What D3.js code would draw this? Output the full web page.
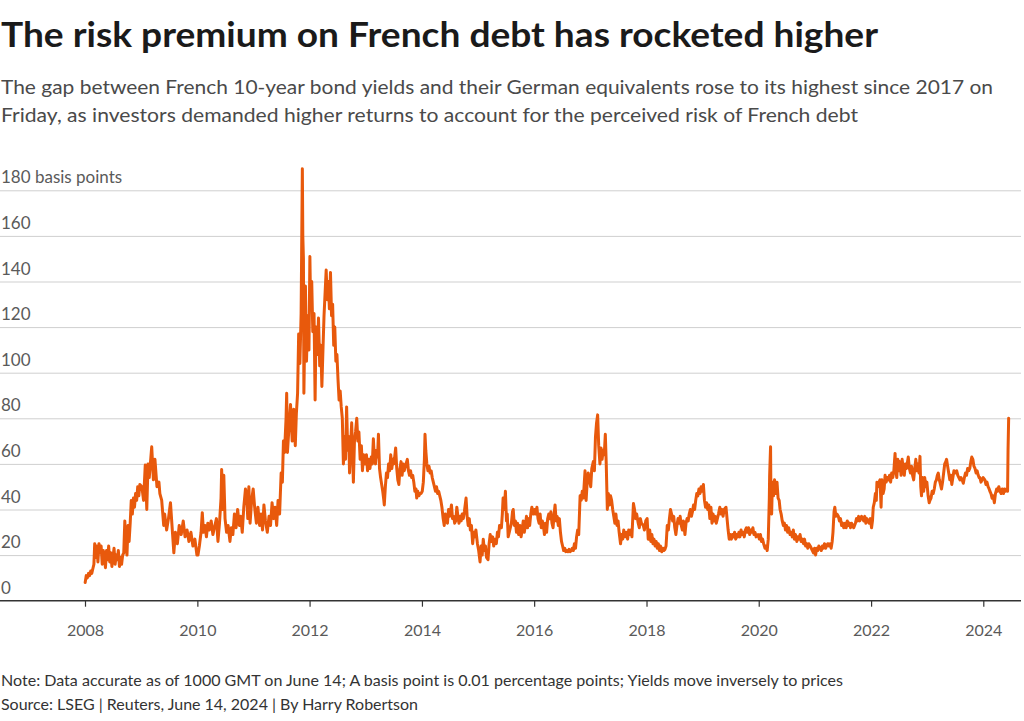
<!DOCTYPE html>
<html>
<head>
<meta charset="utf-8">
<script src="https://cdn.jsdelivr.net/npm/d3@7"></script>
<style>
  html, body { margin: 0; padding: 0; background: #fff; }
  svg { display: block; font-family: Lato, "Noto Sans", sans-serif; }
</style>
</head>
<body>
<svg id="chart" width="1024" height="721"></svg>
<script>
// ---------------- DATA ----------------
const titleText = "The risk premium on French debt has rocketed higher";
const subtitleLines = [
  "The gap between French 10-year bond yields and their German equivalents rose to its highest since 2017 on",
  "Friday, as investors demanded higher returns to account for the perceived risk of French debt"
];
const noteLines = [
  "Note: Data accurate as of 1000 GMT on June 14; A basis point is 0.01 percentage points; Yields move inversely to prices",
  "Source: LSEG | Reuters, June 14, 2024 | By Harry Robertson"
];
const yTicks = [0, 20, 40, 60, 80, 100, 120, 140, 160, 180];
const yUnit = "basis points";
const xTickYears = ["2008","2010","2012","2014","2016","2018","2020","2022","2024"];

const dates = [
 // 2008
 "2008-01-02","2008-01-09","2008-01-16","2008-01-24","2008-01-31","2008-02-07","2008-02-14","2008-02-21","2008-02-28","2008-03-04","2008-03-11","2008-03-18","2008-03-25","2008-04-01","2008-04-08","2008-04-15","2008-04-22","2008-04-29","2008-05-06","2008-05-13","2008-05-20","2008-05-27","2008-06-03","2008-06-10","2008-06-17","2008-06-24","2008-07-01","2008-07-08","2008-07-15","2008-07-22","2008-07-29","2008-08-05","2008-08-12","2008-08-19","2008-08-26","2008-09-02","2008-09-09","2008-09-16","2008-09-23","2008-09-30","2008-10-07","2008-10-14","2008-10-21","2008-10-28","2008-11-04","2008-11-11","2008-11-18","2008-11-25","2008-12-02","2008-12-09","2008-12-16","2008-12-23",
 // 2009
 "2009-01-05","2009-01-16","2009-01-27","2009-02-06","2009-02-14","2009-02-22","2009-03-10","2009-03-21","2009-03-31","2009-04-13","2009-04-26","2009-05-02","2009-05-14","2009-05-27","2009-06-02","2009-06-15","2009-06-27","2009-07-10","2009-07-23","2009-08-01","2009-08-11","2009-08-24","2009-09-05","2009-09-18","2009-10-01","2009-10-13","2009-10-26","2009-11-07","2009-11-20","2009-12-03","2009-12-16","2009-12-29",
 // 2010
 "2010-01-05","2010-01-14","2010-01-25","2010-02-02","2010-02-10","2010-02-20","2010-03-01","2010-03-10","2010-03-20","2010-04-01","2010-04-12","2010-04-25","2010-05-05","2010-05-15","2010-05-25","2010-06-04","2010-06-08","2010-06-15","2010-06-22","2010-06-30","2010-07-10","2010-07-20","2010-08-01","2010-08-10","2010-08-20","2010-08-30","2010-09-10","2010-09-20","2010-10-01","2010-10-10","2010-10-20","2010-10-30","2010-11-10","2010-11-17","2010-11-25","2010-12-02","2010-12-10","2010-12-20","2010-12-30",
 // 2011
 "2011-01-10","2011-01-20","2011-01-30","2011-02-10","2011-02-20","2011-03-01","2011-03-10","2011-03-20","2011-04-01","2011-04-12","2011-04-22","2011-05-02","2011-05-12","2011-05-22","2011-06-01","2011-06-10","2011-06-20","2011-06-30","2011-07-08","2011-07-15","2011-07-22","2011-08-01","2011-08-05","2011-08-10","2011-08-20","2011-08-30","2011-09-10","2011-09-20","2011-09-30","2011-10-07","2011-10-15","2011-10-22","2011-10-30","2011-11-07","2011-11-15","2011-11-18","2011-11-22","2011-11-25","2011-12-01","2011-12-05","2011-12-12","2011-12-20","2011-12-28",
 // 2012
 "2012-01-03","2012-01-08","2012-01-15","2012-01-22","2012-01-30","2012-02-06","2012-02-12","2012-02-20","2012-02-28","2012-03-07","2012-03-14","2012-03-21","2012-03-28","2012-04-04","2012-04-11","2012-04-18","2012-04-25","2012-05-02","2012-05-09","2012-05-16","2012-05-23","2012-05-30","2012-06-06","2012-06-13","2012-06-20","2012-06-27","2012-07-04","2012-07-11","2012-07-18","2012-07-25",
 "2012-08-01","2012-08-08","2012-08-15","2012-08-22","2012-08-29","2012-09-05","2012-09-12","2012-09-17","2012-09-24","2012-10-01","2012-10-07","2012-10-12","2012-10-19","2012-10-26","2012-11-03","2012-11-10","2012-11-17","2012-11-25","2012-12-03","2012-12-10","2012-12-17","2012-12-27",
 // 2013
 "2013-01-05","2013-01-12","2013-01-20","2013-01-28","2013-02-05","2013-02-12","2013-02-19","2013-02-26","2013-03-05","2013-03-12","2013-03-18","2013-03-24","2013-03-31","2013-04-07","2013-04-14","2013-04-21","2013-04-28","2013-05-01","2013-05-08","2013-05-15","2013-05-22","2013-05-29","2013-06-05","2013-06-12","2013-06-19","2013-06-26","2013-07-03","2013-07-14","2013-07-21","2013-07-28","2013-08-04","2013-08-11","2013-08-18","2013-08-25","2013-09-01","2013-09-08","2013-09-15","2013-09-28","2013-10-05","2013-10-12","2013-10-19","2013-10-26","2013-11-02","2013-11-09","2013-11-16","2013-11-23","2013-11-28","2013-12-05","2013-12-12","2013-12-19","2013-12-26",
 // 2014
 "2014-01-03","2014-01-10","2014-01-17","2014-01-21","2014-01-26","2014-02-02","2014-02-09","2014-02-16","2014-02-23","2014-03-02","2014-03-09","2014-03-16","2014-03-23","2014-03-30","2014-04-06","2014-04-13","2014-04-20","2014-04-27","2014-05-04","2014-05-11","2014-05-19","2014-05-26","2014-06-02","2014-06-09","2014-06-16","2014-06-23","2014-07-01","2014-07-12","2014-07-19","2014-07-26","2014-08-02","2014-08-09","2014-08-16","2014-08-23","2014-08-30","2014-09-06","2014-09-13","2014-09-20","2014-09-27","2014-10-04","2014-10-15","2014-10-22","2014-10-29","2014-11-05","2014-11-12","2014-11-19","2014-11-27","2014-12-04","2014-12-11","2014-12-18","2014-12-28",
 // 2015
 "2015-01-05","2015-01-14","2015-01-21","2015-01-28","2015-02-04","2015-02-11","2015-02-18","2015-02-25","2015-03-07","2015-03-14","2015-03-21","2015-03-29","2015-04-06","2015-04-13","2015-04-20","2015-04-30","2015-05-07","2015-05-14","2015-05-21","2015-06-02","2015-06-08","2015-06-13","2015-06-20","2015-06-28","2015-07-05","2015-07-10","2015-07-16","2015-07-23","2015-07-30","2015-08-06","2015-08-13","2015-08-18","2015-08-25","2015-09-01","2015-09-08","2015-09-15","2015-09-22","2015-10-01","2015-10-08","2015-10-15","2015-10-22","2015-10-29","2015-11-05","2015-11-12","2015-11-19","2015-11-26","2015-12-03","2015-12-10","2015-12-17","2015-12-28",
 // 2016
 "2016-01-05","2016-01-12","2016-01-19","2016-01-26","2016-02-02","2016-02-09","2016-02-16","2016-02-23","2016-03-01","2016-03-08","2016-03-15","2016-03-22","2016-03-29","2016-04-05","2016-04-12","2016-04-19","2016-04-26","2016-05-03","2016-05-10","2016-05-16","2016-05-23","2016-05-30","2016-06-06","2016-06-13","2016-06-20","2016-06-27","2016-07-04","2016-07-11","2016-07-18","2016-07-25","2016-08-01","2016-08-08","2016-08-15","2016-08-22","2016-08-29","2016-09-05","2016-09-12","2016-09-19","2016-09-26","2016-10-03","2016-10-10","2016-10-17","2016-10-26","2016-11-02","2016-11-09","2016-11-16","2016-11-27","2016-12-04","2016-12-11","2016-12-18","2016-12-25",
 // 2017
 "2017-01-03","2017-01-10","2017-01-20","2017-01-27","2017-02-03","2017-02-10","2017-02-17","2017-02-24","2017-03-04","2017-03-11","2017-03-18","2017-03-25","2017-04-01","2017-04-08","2017-04-14","2017-04-21","2017-04-28","2017-05-05","2017-05-12","2017-05-19","2017-05-26","2017-06-02","2017-06-09","2017-06-16","2017-06-23","2017-06-30","2017-07-07","2017-07-16","2017-07-23","2017-07-30","2017-08-06","2017-08-13","2017-08-24","2017-08-31","2017-09-07","2017-09-14","2017-09-21","2017-09-28","2017-10-08","2017-10-15","2017-10-22","2017-10-29","2017-11-08","2017-11-15","2017-11-22","2017-11-29","2017-12-11","2017-12-18","2017-12-27",
 // 2018
 "2018-01-05","2018-01-12","2018-01-22","2018-01-29","2018-02-05","2018-02-12","2018-02-19","2018-02-26","2018-03-05","2018-03-12","2018-03-19","2018-03-26","2018-04-02","2018-04-10","2018-04-17","2018-04-24","2018-05-01","2018-05-08","2018-05-16","2018-05-23","2018-05-30","2018-06-06","2018-06-13","2018-06-20","2018-06-27","2018-07-04","2018-07-11","2018-07-18","2018-07-25","2018-08-01","2018-08-08","2018-08-15","2018-08-22","2018-08-29","2018-09-08","2018-09-15","2018-09-22","2018-09-29","2018-10-06","2018-10-13","2018-10-20","2018-10-27","2018-11-03","2018-11-10","2018-11-17","2018-11-24","2018-12-01","2018-12-08","2018-12-15","2018-12-22","2018-12-29",
 // 2019
 "2019-01-06","2019-01-13","2019-01-20","2019-01-27","2019-02-03","2019-02-10","2019-02-17","2019-02-24","2019-03-03","2019-03-10","2019-03-17","2019-03-24","2019-03-31","2019-04-07","2019-04-14","2019-04-23","2019-04-30","2019-05-07","2019-05-14","2019-05-21","2019-06-02","2019-06-09","2019-06-16","2019-06-23","2019-06-30","2019-07-07","2019-07-14","2019-07-21","2019-07-28","2019-08-04","2019-08-11","2019-08-18","2019-08-25","2019-09-01","2019-09-08","2019-09-15","2019-09-22","2019-09-29","2019-10-06","2019-10-13","2019-10-20","2019-10-27","2019-11-03","2019-11-10","2019-11-17","2019-11-24","2019-12-01","2019-12-08","2019-12-15","2019-12-28",
 // 2020
 "2020-01-05","2020-01-12","2020-01-19","2020-01-26","2020-02-02","2020-02-11","2020-02-18","2020-02-25","2020-03-03","2020-03-10","2020-03-12","2020-03-18","2020-03-21","2020-03-25","2020-03-30","2020-04-06","2020-04-13","2020-04-16","2020-04-22","2020-04-29","2020-05-06","2020-05-13","2020-05-19","2020-05-26","2020-06-02","2020-06-09","2020-06-16","2020-06-23","2020-06-30","2020-07-07","2020-07-14","2020-07-23","2020-07-30","2020-08-06","2020-08-13","2020-08-20","2020-08-27","2020-09-05","2020-09-12","2020-09-19","2020-09-26","2020-10-03","2020-10-10","2020-10-18","2020-10-25","2020-11-01","2020-11-08","2020-11-15","2020-11-22","2020-12-01","2020-12-08","2020-12-15","2020-12-22","2020-12-29",
 // 2021
 "2021-01-05","2021-01-12","2021-01-19","2021-01-26","2021-02-04","2021-02-11","2021-02-18","2021-02-25","2021-03-04","2021-03-11","2021-03-18","2021-03-25","2021-04-01","2021-04-09","2021-04-16","2021-04-23","2021-04-28","2021-05-05","2021-05-10","2021-05-17","2021-05-24","2021-06-02","2021-06-09","2021-06-16","2021-06-23","2021-06-30","2021-07-07","2021-07-16","2021-07-23","2021-07-30","2021-08-06","2021-08-13","2021-08-20","2021-08-27","2021-09-03","2021-09-10","2021-09-21","2021-09-28","2021-10-05","2021-10-12","2021-10-19","2021-10-31","2021-11-07","2021-11-14","2021-11-21","2021-11-28","2021-12-05","2021-12-12","2021-12-19","2021-12-27",
 // 2022
 "2022-01-04","2022-01-10","2022-01-15","2022-01-22","2022-01-29","2022-02-04","2022-02-08","2022-02-15","2022-02-22","2022-02-28","2022-03-07","2022-03-12","2022-03-20","2022-03-27","2022-04-02","2022-04-09","2022-04-16","2022-04-24","2022-05-01","2022-05-08","2022-05-15","2022-05-22","2022-05-29","2022-06-06","2022-06-10","2022-06-17","2022-06-24","2022-07-01","2022-07-08","2022-07-15","2022-07-22","2022-07-29","2022-08-05","2022-08-12","2022-08-19","2022-08-31","2022-09-07","2022-09-14","2022-09-21","2022-09-28","2022-10-05","2022-10-12","2022-10-19","2022-10-26","2022-11-02","2022-11-09","2022-11-15","2022-11-20","2022-11-25","2022-12-02","2022-12-09","2022-12-16","2022-12-23","2022-12-30",
 // 2023
 "2023-01-07","2023-01-14","2023-01-19","2023-01-26","2023-02-02","2023-02-09","2023-02-16","2023-02-23","2023-03-02","2023-03-08","2023-03-14","2023-03-21","2023-03-28","2023-04-04","2023-04-11","2023-04-18","2023-04-25","2023-05-02","2023-05-07","2023-05-14","2023-05-21","2023-05-28","2023-06-04","2023-06-10","2023-06-17","2023-06-24","2023-07-01","2023-07-12","2023-07-19","2023-07-26","2023-08-02","2023-08-09","2023-08-16","2023-08-24","2023-08-31","2023-09-07","2023-09-14","2023-09-21","2023-09-28","2023-10-05","2023-10-12","2023-10-18","2023-10-25","2023-11-01","2023-11-08","2023-11-15","2023-11-22","2023-11-29","2023-12-05","2023-12-10","2023-12-17","2023-12-24","2023-12-31",
 // 2024
 "2024-01-11","2024-01-18","2024-01-25","2024-02-01","2024-02-08","2024-02-13","2024-02-20","2024-02-27","2024-03-05","2024-03-13","2024-03-20","2024-03-28","2024-04-04","2024-04-11","2024-04-19","2024-04-26","2024-05-03","2024-05-11","2024-05-18","2024-05-25","2024-06-01","2024-06-07","2024-06-10","2024-06-14"
];

// French-German 10-year spread, basis points
const spread = [
 // 2008
 8,11,10,12,11,13,12,14,16,25,19,24,17,25,21,24,16,22,19,14.5,22,18,24,17,21,15,19,23,16,20,18,22,15,19,16,20,21,35,24,20,33,26,34,44,38,45,41,47,44,50,46,51,
 // 2009
 50,44,59.5,40,60,54,67.5,53,62,50,52,47,44,33,38,31,36,43,30,21,30,25,33,29,35,28,31,26,30,24,27,20,
 // 2010
 20,24,30,38.6,30,33,28,34,31,35,29,33,36,26,34,45,57.5,40,55,36,30,33,26,32,29,38,32,40,33,37,30,41,49,47,36,50,34,44,49,
 // 2011
 40,34,41,33,38,31,42,35,30,37,33,43,36,41,33,44,38,56,52,70,65,80,91,65,76,86,70,84,68,82,91,117,104,126,189.5,160,150,91,120,138,105,125,110,
 // 2012
 151,128,140,118,126,88,120,108,124,103,112,94,110,125,135,145,132,140,128,144,125,130,112,120,105,108,97,88,92,85,
 80,60,72,62,85,66,72,56,68,78,64,52,70,74,80,70,74,62,68,57,64,60,
 // 2013
 64,57,62,58,63,60,71,62,60,66,63,73,58,54,51,48,44,42,50,56,54,60,57,64,58,62,60,67,58,53,51,58,61,55,60,57,59,62,57,55,57,54,55,52,48,49,45,48,46,47,47,
 // 2014
 48,52,62,73,66,60,57,59,56,57,54,52,50,48,50,47,48,46,44,41,36,33,38,35,34,40,37,42,36,37,34,35,41,37,34,37,35,38,36,39,45,37,33,36,31,33,25,30,28,31,25,
 // 2015
 22,17,24,20,27,22,24,19,18,25,29,26,28,24,27,25,30,28,33,32,38,45,40,48,35,38,28,30,32,34,39,40,33,35,30,34,29,33,28,31,35,30,33,37,32,36,33,38,41,38,
 // 2016
 40,38,41,36,34,38,32,35,33,29,34,30,36,38,36,39,34,32,38,42,35,37,33,36,30,26,24,22,23,21.5,22,21.5,22.5,21.5,22,23,22,25,23,28,31,29,46,44,48,45,57,44,52,56,53,
 // 2017
 50,58,61,57,72,78,81.5,68,60,67,62,66,64,73,60,40,47,42,46,44,40,37,34,38,33,35,30,25,29,27,31,28,30,27,31,29,31,28,42.6,40,36,38,34,32,36,34,33,31,35,
 // 2018
 36,27,31,26,29,25,27,24,26,23,25,22,24,21.5,23,22,22.5,24,33,31,36,40,38,35,37,32,29,33,36,34,37,33,31,35,29,34,36,35,38,40,37,39,42,40,44,47,46,49,47,50,48,
 // 2019
 51,44,41,43,40,42,36,41,34,38,35,37,34,36,38,41,38,40,37,40,41,36,31,27,29,27,29,28,30,27,29,28,30,28,31,29,30,28,31,32,30,32,29,31,30,32,29,30,28,29,
 // 2020
 27,29,26,27,25,23,24,22,27,45,55,67.5,40,38,52,46,53,50,47,52,45,44,40,38,35,33,34,31,33,30,32,29,30,28,31,27,29,26,28,27,29,26,27,25,27,24,25,23,25,24,23,22,21,23,
 // 2021
 20,23,22,24,23,22,24,23,25,23,24,25,24,25,23,26,30,39,41,37,38,37,35,36,33,34,32,34,32,35,33,34,32,34,33,32,34,36,35,37,35,37,36,35,37,34,36,35,34,36,
 // 2022
 32,35,41,43,47,44,52,50,52,53,41,53,47,49,55,52,54,53,55,52,56,54,57,64.6,58,54,62,57,61,55,62,58,55,60,58,63,58,56,59,55,53,58,62,57,60,56,63.3,50,46,54,48,54,50,52,
 // 2023
 46,43,44,45,48,47,49,52,53,55,56,53,51,49,52,56,60,61,62,59,56,53,55,51,54,57,56,57,55,54,53,54,53,51.5,54,56,55,58,57,58,61,63,62,59,58,56,57,55,54,54,52,53,54,
 // 2024
 53,51,52,50,49,48,47,45,46,43,47,49,48,50,48,47,49,47,49,48,49,48,66,80
];

// ---------------- CHART ----------------
const svg = d3.select("#chart");
const parse = d3.utcParse("%Y-%m-%d");
const n = Math.min(dates.length, spread.length);
const series = d3.range(n).map(i => ({ date: parse(dates[i]), value: spread[i] }));

const x = d3.scaleUtc()
  .domain([parse("2008-01-01"), parse("2024-01-01")])
  .range([85, 983.3]);
const y = d3.scaleLinear()
  .domain([0, 180])
  .range([600.7, 190.3]);

const gridRight = 1021;

function fit(sel, target) {
  const len = sel.node().getComputedTextLength();
  if (Math.abs(len - target) / target > 0.008) {
    sel.attr("textLength", target).attr("lengthAdjust", "spacingAndGlyphs");
  }
}

// Title
const title = svg.append("text")
  .attr("x", 1).attr("y", 47)
  .attr("font-size", 34).attr("font-weight", 700)
  .attr("fill", "#1a1a1a")
  .text(titleText);
fit(title, 877);

// Subtitle
const subW = [992, 857];
subtitleLines.forEach((t, i) => {
  const s = svg.append("text")
    .attr("x", 1).attr("y", 94 + i * 27.5)
    .attr("font-size", 18.5)
    .attr("fill", "#4a4a4a")
    .text(t);
  fit(s, subW[i]);
});

// Y axis (gridlines + labels)
const yAxis = svg.append("g")
  .attr("class", "y-axis")
  .call(d3.axisRight(y)
    .tickValues(yTicks)
    .tickSize(gridRight)
    .tickFormat(d => d === 180 ? `${d} ${yUnit}` : `${d}`));
yAxis.select(".domain").remove();
yAxis.selectAll(".tick line")
  .attr("stroke", "#cfcfcf")
  .attr("stroke-width", 1)
  .attr("display", d => d === 0 ? "none" : null);
yAxis.selectAll(".tick text")
  .attr("x", 1)
  .attr("y", -7.5)
  .attr("dy", 0)
  .attr("text-anchor", "start")
  .attr("font-family", "Lato, 'Noto Sans', sans-serif")
  .attr("font-size", 17)
  .attr("fill", "#5a5a5a");

// X axis
const xAxis = svg.append("g")
  .attr("class", "x-axis")
  .attr("transform", `translate(0,${y(0)})`)
  .call(d3.axisBottom(x)
    .tickValues(xTickYears.map(yr => parse(`${yr}-01-01`)))
    .tickSize(6)
    .tickSizeOuter(0)
    .tickFormat(d3.utcFormat("%Y")));
xAxis.select(".domain").remove();
xAxis.selectAll(".tick line").attr("stroke", "#333").attr("stroke-width", 1.2);
xAxis.selectAll(".tick text")
  .attr("y", 35)
  .attr("dy", 0)
  .attr("font-family", "Lato, 'Noto Sans', sans-serif")
  .attr("font-size", 16)
  .attr("fill", "#5a5a5a");
// baseline across the full plot width
xAxis.append("line")
  .attr("x1", 0).attr("x2", gridRight)
  .attr("y1", 0).attr("y2", 0)
  .attr("stroke", "#333").attr("stroke-width", 1.6);

// Line
const line = d3.line()
  .x(d => x(d.date))
  .y(d => y(d.value));
svg.append("path")
  .datum(series)
  .attr("fill", "none")
  .attr("stroke", "#e8590c")
  .attr("stroke-width", 3)
  .attr("stroke-linejoin", "round")
  .attr("stroke-linecap", "round")
  .attr("d", line);

// Footer
const footW = [842, 417];
noteLines.forEach((t, i) => {
  const f = svg.append("text")
    .attr("x", 1).attr("y", 686 + i * 24)
    .attr("font-size", 15)
    .attr("fill", "#333")
    .text(t);
  fit(f, footW[i]);
});
</script>
</body>
</html>
